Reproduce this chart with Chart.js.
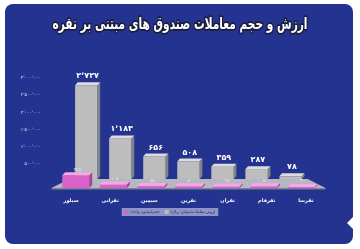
<!DOCTYPE html>
<html>
<head>
<meta charset="utf-8">
<script src="https://cdn.jsdelivr.net/npm/chart.js@4.4.0/dist/chart.umd.min.js"></script>
<style>
  html, body { margin: 0; padding: 0; background: #fff; }
  #wrap   { position: relative; width: 360px; height: 249px; overflow: hidden; }
  #panel  { position: absolute; left: 5px; top: 4px; width: 348px; height: 240px;
            background: #24338f; border-radius: 8px; }
  #notch  { position: absolute; left: 347px; top: 217px; width: 0; height: 0;
            border-top: 6px solid transparent; border-bottom: 6px solid transparent;
            border-right: 6px solid #fff; }
  canvas  { position: absolute; left: 0; top: 0; }
</style>
</head>
<body>
<div id="wrap">
  <div id="panel"></div>
  <div id="notch"></div>
  <canvas id="chart" width="360" height="249"></canvas>
</div>
<script>
/* ── Data ── */
const TITLE         = 'ارزش و حجم معاملات صندوق های مبتنی بر نقره';
const CATEGORIES    = ['سیلور', 'نقرابی', 'سیمین', 'نقرین', 'نقران', 'نقرفام', 'نقرسا'];
const VOLUME_MN     = [375, 105, 55, 50, 45, 50, 30];            // حجم (میلیون واحد)
const VALUE_BN      = [2727, 1183, 656, 508, 359, 287, 78];      // ارزش معاملات (میلیارد ریال)
const SERIES_NAMES  = ['حجم(میلیون واحد)', 'ارزش معاملات(میلیارد ریال)'];
const Y_TICK_LABELS = ['', '۵۰۰٬۰۰۰', '۱٬۰۰۰٬۰۰۰', '۱٬۵۰۰٬۰۰۰', '۲٬۰۰۰٬۰۰۰', '۲٬۵۰۰٬۰۰۰', '۳٬۰۰۰٬۰۰۰'];

/* ── Style ── */
const FONT = "'DejaVu Sans', sans-serif";
const TITLE_WIDTH = 255;
// one entry per dataset: front row (pink) and back row (grey), fake 3D
const ROWS = [
  { sx: 0.96, dy: 7,  depth: 3, top: '#f2a9e6', side: '#a8409a' },
  { sx: 0.87, dy: -2, depth: 3, top: '#dcdcdc', side: '#7d8686' },
];

const FA_DIGITS = '۰۱۲۳۴۵۶۷۸۹';
const toFa = n => n.toLocaleString('en-US').replace(/\d/g, d => FA_DIGITS[d]).replace(/,/g, '٬');

function rowX(chart, i, x) {
  const cx = (chart.chartArea.left + chart.chartArea.right) / 2;
  return cx + (x - cx) * ROWS[i].sx;
}

/* ── 3D floor + bar faces ── */
const fake3d = {
  id: 'fake3d',
  beforeDraw(chart) {
    // panel title, white with dark outline, squeezed to the banner width
    const { ctx } = chart;
    ctx.save();
    ctx.font = `bold 16px ${FONT}`;
    const w = ctx.measureText(TITLE).width;
    ctx.translate(180, 25);
    ctx.scale(Math.min(1, TITLE_WIDTH / w), 1);
    ctx.textAlign = 'center';
    ctx.textBaseline = 'middle';
    ctx.lineJoin = 'round';
    ctx.lineWidth = 3.5;
    ctx.strokeStyle = '#1b1d3c';
    ctx.strokeText(TITLE, 0, 0);
    ctx.fillStyle = '#ffffff';
    ctx.fillText(TITLE, 0, 0);
    ctx.restore();

    // legend background strip
    const boxes = chart.legend.legendHitBoxes;
    if (boxes && boxes.length) {
      const l = Math.min(...boxes.map(b => b.left)) - 3;
      const r = Math.max(...boxes.map(b => b.left + b.width)) + 3;
      const t = Math.min(...boxes.map(b => b.top)) - 2;
      const h = boxes[0].height + 4;
      ctx.save();
      ctx.fillStyle = '#8d94c6';
      ctx.fillRect(l, t, r - l, h);
      ctx.restore();
    }
  },
  beforeDatasetsDraw(chart) {
    const { ctx, chartArea } = chart;
    const y0 = chart.scales.y.getPixelForValue(0);
    const back = y0 + ROWS[1].dy, front = y0 + ROWS[0].dy;
    ctx.save();
    ctx.fillStyle = '#b6b7c0';
    ctx.beginPath();
    ctx.moveTo(rowX(chart, 1, chartArea.left), back);
    ctx.lineTo(rowX(chart, 1, chartArea.right), back);
    ctx.lineTo(chartArea.right, front);
    ctx.lineTo(chartArea.left, front);
    ctx.closePath();
    ctx.fill();
    ctx.fillStyle = '#7f8190';
    ctx.fillRect(chartArea.left, front, chartArea.right - chartArea.left, 1.5);
    ctx.restore();
  },
  beforeDatasetDraw(chart, args) {
    const { ctx, chartArea } = chart;
    const r = ROWS[args.index];
    const cx = (chartArea.left + chartArea.right) / 2;
    ctx.save();
    ctx.translate(cx, r.dy);
    ctx.scale(r.sx, 1);
    ctx.translate(-cx, 0);
  },
  afterDatasetDraw(chart, args) {
    const { ctx } = chart;
    const r = ROWS[args.index];
    const d = r.depth;
    args.meta.data.forEach(bar => {
      const { x, y, base, width } = bar.getProps(['x', 'y', 'base', 'width'], true);
      const l = x - width / 2, rt = x + width / 2;
      ctx.fillStyle = r.top;
      ctx.beginPath();
      ctx.moveTo(l, y); ctx.lineTo(l + d, y - d); ctx.lineTo(rt + d, y - d); ctx.lineTo(rt, y);
      ctx.closePath(); ctx.fill();
      ctx.fillStyle = r.side;
      ctx.beginPath();
      ctx.moveTo(rt, y); ctx.lineTo(rt + d, y - d); ctx.lineTo(rt + d, base - d); ctx.lineTo(rt, base);
      ctx.closePath(); ctx.fill();
    });
    ctx.restore();
  },
  afterDatasetsDraw(chart) {
    const { ctx } = chart;
    ctx.save();
    ctx.textAlign = 'center';
    ctx.textBaseline = 'bottom';

    // value labels on grey bars
    ctx.font = `bold 8px ${FONT}`;
    ctx.fillStyle = '#ffffff';
    chart.getDatasetMeta(1).data.forEach((bar, i) => {
      const r = ROWS[1];
      ctx.fillText(toFa(VALUE_BN[i]), rowX(chart, 1, bar.x + r.depth / 2), bar.y + r.dy - r.depth - 2);
    });

    // volume labels on pink bars
    ctx.font = `4.5px ${FONT}`;
    ctx.fillStyle = '#e6e6ee';
    chart.getDatasetMeta(0).data.forEach((bar, i) => {
      const r = ROWS[0];
      ctx.fillText(toFa(VOLUME_MN[i]), rowX(chart, 0, bar.x + r.depth / 2), bar.y + r.dy - r.depth - 0.5);
    });
    ctx.restore();
  },
};

/* ── Chart ── */
new Chart(document.getElementById('chart'), {
  type: 'bar',
  data: {
    labels: CATEGORIES,
    datasets: [
      {
        label:              SERIES_NAMES[0],
        data:               VOLUME_MN,
        backgroundColor:    '#d862c8',
        borderWidth:        0,
        categoryPercentage: 1,
        barPercentage:      0.72,
        grouped:            false,
        clip:               false,
      },
      {
        label:              SERIES_NAMES[1],
        data:               VALUE_BN,
        backgroundColor:    '#bdbdbd',
        borderWidth:        0,
        categoryPercentage: 1,
        barPercentage:      0.66,
        grouped:            false,
        clip:               false,
      },
    ],
  },
  options: {
    responsive: false,
    animation:  false,
    events:     [],
    layout: { padding: { top: 78, left: 14.5, right: 34.5, bottom: 25 } },
    plugins: {
      legend: {
        position: 'bottom',
        labels: {
          boxWidth:  4,
          boxHeight: 4,
          padding:   5,
          color:     '#1d2466',
          font:      { family: FONT, size: 3.8 },
        },
      },
      tooltip: { enabled: false },
    },
    scales: {
      x: {
        grid:   { display: false },
        border: { display: false },
        ticks:  {
          color: '#ffffff', padding: 9, maxRotation: 0, autoSkip: false,
          font: { family: FONT, size: 5, weight: 'bold' },
        },
        afterFit: scale => { scale.height = 24; },
      },
      y: {
        min: 0, max: 3000,
        grid:   { display: false },
        border: { display: false },
        ticks:  {
          stepSize: 500, color: '#dfe3ff', padding: 3,
          font: { family: FONT, size: 4.5 },
          callback: (v, i) => Y_TICK_LABELS[i],
        },
        afterFit: scale => { scale.width = 37; },
      },
    },
  },
  plugins: [fake3d],
});
</script>
</body>
</html>
